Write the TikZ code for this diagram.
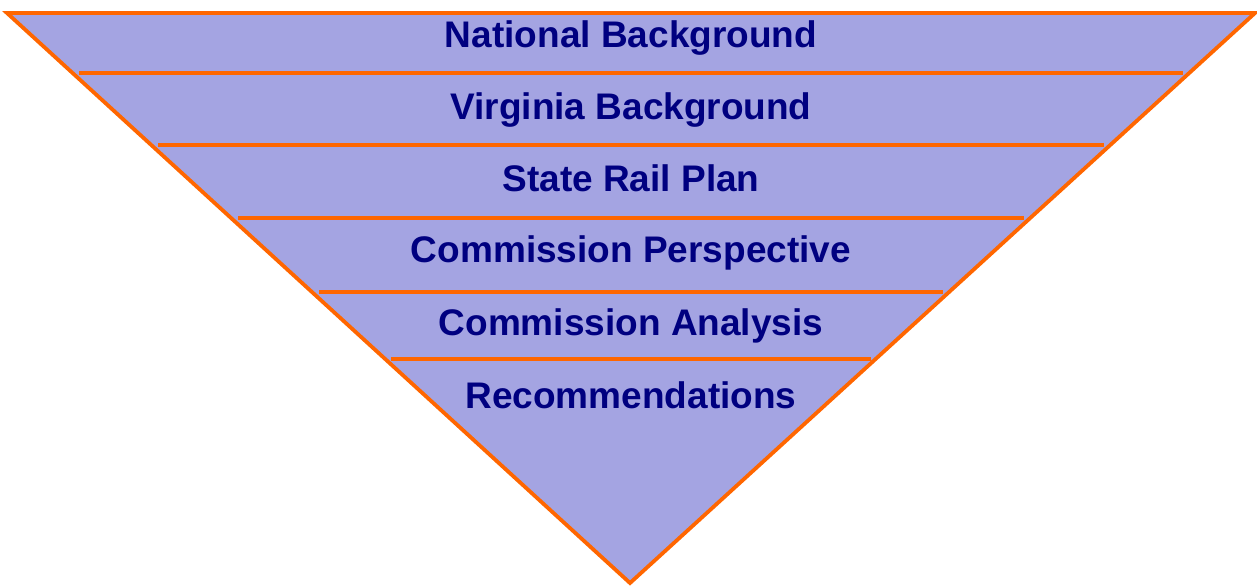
\documentclass[tikz,border=0pt]{standalone}
\usepackage{fontspec}
\setmainfont{Liberation Sans}
\usepackage{tikz}
\usetikzlibrary{positioning, calc}
\definecolor{funnelfill}{RGB}{164, 164, 226}
\definecolor{funnelline}{RGB}{255, 102, 0}
\definecolor{funneltext}{RGB}{0, 0, 128}

\begin{document}
\begin{tikzpicture}[x=0.5pt, y=-0.5pt,
    stage/.style={anchor=base, text=funneltext, font=\fontsize{18.5}{22}\selectfont\bfseries, inner sep=0pt},
    divider/.style={draw=funnelline, line width=1.8pt}]
        \useasboundingbox (0,0) rectangle (1257,585);
        
        \draw[fill=funnelfill, draw=funnelline, line width=1.9pt] (7,13) -- (1255,13) -- (630,583) -- cycle;
        
        \draw[divider] (79,73) -- (1183,73);
        \draw[divider] (158,145) -- (1104,145);
        \draw[divider] (238,218) -- (1024,218);
        \draw[divider] (319,292) -- (943,292);
        \draw[divider] (391,359) -- (871,359);
        
        \node[stage] (national) at (631,47) {National Background};
        \node[stage] (virginia) at (631,119) {Virginia Background};
        \node[stage] (railplan) at (631,191) {State Rail Plan};
        \node[stage] (perspective) at (631,262) {Commission Perspective};
        \node[stage] (analysis) at (631,335) {Commission Analysis};
        \node[stage] (recommend) at (631,408) {Recommendations};
    \end{tikzpicture}
\end{document}
